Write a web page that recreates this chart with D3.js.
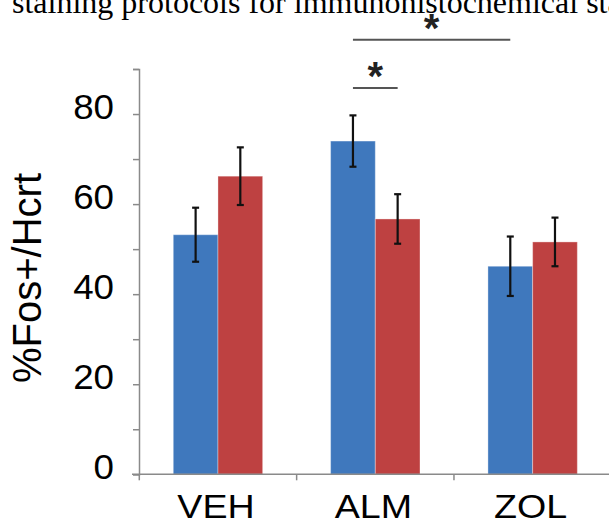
<!DOCTYPE html>
<html>
<head>
<meta charset="utf-8">
<script src="https://cdn.jsdelivr.net/npm/d3@7"></script>
<style>
  body { margin: 0; background: #fff; }
  svg { display: block; }
  .tick-label { font-family: "Liberation Sans", Arial, sans-serif; fill: #000; }
</style>
</head>
<body>
<script>
// groups and the two series (blue / red bars), with error bar half-widths
const categories = ["VEH", "ALM", "ZOL"];
const seriesNames = ["blue", "red"];
const blueMeans = [53.2, 74.0, 46.2];
const blueErrors = [6.0, 5.7, 6.6];
const redMeans = [66.2, 56.7, 51.6];
const redErrors = [6.4, 5.5, 5.4];
const yTickValues = [0, 20, 40, 60, 80];

// significance brackets: [category, series] to [category, series], at a y value
const sigFrom = [["ALM", "blue"], ["ALM", "blue"]];
const sigTo = [["ZOL", "blue"], ["ALM", "red"]];
const sigLevels = [96.5, 85.8];

const colors = { blue: "#3f78bd", red: "#be4141" };

const width = 609, height = 524;

const svg = d3.select("body").append("svg")
    .attr("width", width)
    .attr("height", height);

// cut-off caption line at the very top
svg.append("text")
    .attr("x", 12)
    .attr("y", 13)
    .style("font-family", "'Liberation Serif', 'Times New Roman', serif")
    .style("font-size", "32px")
    .text("staining protocols for immunohistochemical sta");

// scales
const y = d3.scaleLinear().domain([0, 90]).range([474.3, 69]);
const x0 = d3.scaleBand().domain(categories).range([139.3, 611.3]);
const x1 = d3.scaleBand().domain(seriesNames).range([0, x0.bandwidth()])
    .paddingInner(0).paddingOuter(0.76);

const rows = categories.map((c, i) => ({
  cat: c,
  bars: [
    { s: "blue", v: blueMeans[i], e: blueErrors[i] },
    { s: "red", v: redMeans[i], e: redErrors[i] }
  ]
}));

// y axis
const axisColor = "#8a8a8a";
const yAxis = svg.append("g")
    .attr("transform", "translate(139,0)")
    .call(d3.axisLeft(y).tickValues(d3.range(0, 91, 10)).tickSize(6).tickFormat(""));
yAxis.select(".domain").attr("stroke", axisColor).attr("stroke-width", 1.5);
yAxis.selectAll(".tick line").attr("stroke", axisColor).attr("stroke-width", 1.5);

svg.append("g").selectAll("text")
  .data(yTickValues)
  .enter().append("text")
    .attr("class", "tick-label")
    .attr("transform", d => `translate(114,${y(d) + 5}) scale(1.05,1)`)
    .attr("text-anchor", "end")
    .style("font-size", "35px")
    .text(d => d);

// bars
const group = svg.append("g").selectAll("g")
  .data(rows)
  .enter().append("g")
    .attr("transform", d => `translate(${x0(d.cat)},0)`);

group.selectAll("rect")
  .data(d => d.bars)
  .enter().append("rect")
    .attr("x", d => x1(d.s))
    .attr("y", d => y(d.v))
    .attr("width", x1.bandwidth())
    .attr("height", d => y(0) - y(d.v))
    .attr("fill", d => colors[d.s])
    .attr("stroke", "#ffffff")
    .attr("stroke-opacity", 0.35)
    .attr("stroke-width", 1);

// error bars
const err = group.selectAll("g.err")
  .data(d => d.bars)
  .enter().append("g")
    .attr("class", "err")
    .attr("stroke", "#111")
    .attr("stroke-width", 2.2);
const cx = d => x1(d.s) + x1.bandwidth() / 2;
err.append("line")
    .attr("x1", cx).attr("x2", cx)
    .attr("y1", d => y(d.v + d.e)).attr("y2", d => y(d.v - d.e));
err.append("line")
    .attr("x1", d => cx(d) - 3.5).attr("x2", d => cx(d) + 3.5)
    .attr("y1", d => y(d.v + d.e)).attr("y2", d => y(d.v + d.e));
err.append("line")
    .attr("x1", d => cx(d) - 3.5).attr("x2", d => cx(d) + 3.5)
    .attr("y1", d => y(d.v - d.e)).attr("y2", d => y(d.v - d.e));

// x axis
const xAxis = svg.append("g")
    .attr("transform", `translate(0,${y(0)})`);
xAxis.append("line")
    .attr("x1", 132).attr("x2", 611)
    .attr("stroke", axisColor).attr("stroke-width", 1.5);
xAxis.selectAll("line.cat")
  .data(categories)
  .enter().append("line")
    .attr("class", "cat")
    .attr("x1", d => x0(d)).attr("x2", d => x0(d))
    .attr("y1", 0).attr("y2", 6)
    .attr("stroke", axisColor).attr("stroke-width", 1.5);
xAxis.selectAll("text")
  .data(categories)
  .enter().append("text")
    .attr("class", "tick-label")
    .attr("transform", d => `translate(${x0(d) + x0.bandwidth() / 2 - 2},${518 - y(0)}) scale(1.14,1)`)
    .attr("text-anchor", "middle")
    .style("font-size", "33px")
    .text(d => d);

// y axis title
svg.append("text")
    .attr("class", "tick-label")
    .attr("transform", "translate(41,278) rotate(-90)")
    .attr("text-anchor", "middle")
    .style("font-size", "40px")
    .text("%Fos+/Hcrt");

// significance brackets with stars
const barCenter = p => x0(p[0]) + x1(p[1]) + x1.bandwidth() / 2;
sigLevels.forEach((lv, i) => {
  const xa = barCenter(sigFrom[i]), xb = barCenter(sigTo[i]);
  svg.append("line")
      .attr("x1", xa).attr("x2", xb)
      .attr("y1", y(lv)).attr("y2", y(lv))
      .attr("stroke", "#555").attr("stroke-width", 2);
  svg.append("text")
      .attr("x", (xa + xb) / 2)
      .attr("y", y(lv) + 2)
      .attr("text-anchor", "middle")
      .style("font-family", "'Liberation Sans', Arial, sans-serif")
      .style("font-weight", "bold")
      .style("font-size", "40px")
      .attr("fill", "#222")
      .text("*");
});
</script>
</body>
</html>
